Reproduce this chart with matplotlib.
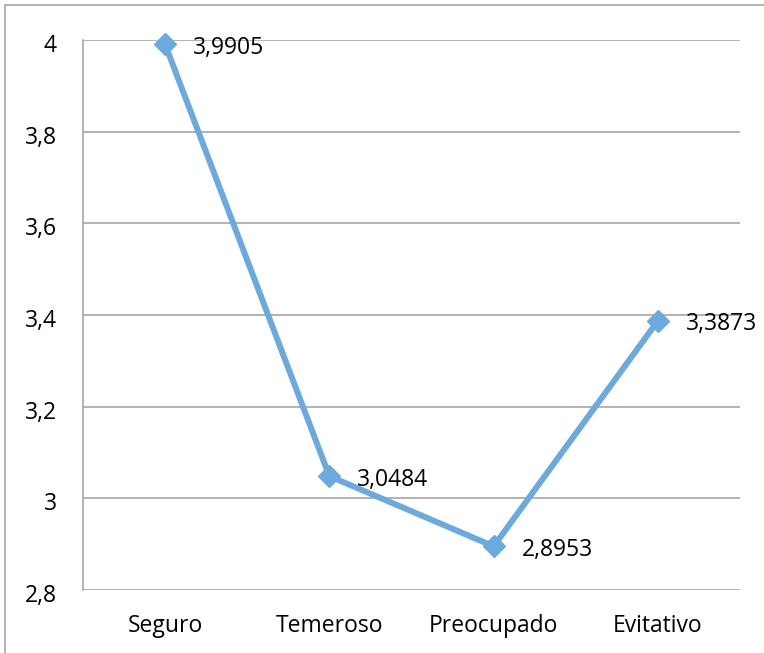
import matplotlib
matplotlib.use("Agg")
import matplotlib.pyplot as plt
from matplotlib.patches import Rectangle
from matplotlib.transforms import ScaledTranslation

categories = ["Seguro", "Temeroso", "Preocupado", "Evitativo"]
values = [3.9905, 3.0484, 2.8953, 3.3873]
yticks = [2.8, 3.0, 3.2, 3.4, 3.6, 3.8, 4.0]
ytick_labels = ["2,8", "3", "3,2", "3,4", "3,6", "3,8", "4"]

plt.rcParams["font.family"] = ["Open Sans", "DejaVu Sans"]

W, H = 764, 653
FS = 16.5
fig = plt.figure(figsize=(W / 100, H / 100), dpi=100)
ax = fig.add_axes([83 / W, (H - 590) / H, (740 - 83) / W, (590 - 40) / H])

line_color = "#6CA9DC"
x = list(range(len(categories)))
ax.plot(x, values, color=line_color, linewidth=4.3, marker="D",
        markersize=11, markerfacecolor=line_color, markeredgecolor=line_color,
        solid_joinstyle="round", zorder=3, clip_on=False)

for xi, v in zip(x, values):
    ax.annotate(f"{v:.4f}".replace(".", ","), (xi, v), xytext=(20, -2.5),
                textcoords="offset points", ha="left", va="center",
                fontsize=FS, color="black", zorder=4, annotation_clip=False)

ax.set_xlim(-0.5, len(categories) - 0.5)
ax.set_ylim(2.8, 4.0)
ax.set_yticks(yticks)
ax.set_yticklabels(ytick_labels, fontsize=FS)
ax.set_xticks(x)
ax.set_xticklabels(categories, fontsize=FS)
ax.tick_params(axis="both", length=0)
ax.tick_params(axis="x", pad=17)
ax.tick_params(axis="y", pad=19)
shift = ScaledTranslation(0, -3 / 100, fig.dpi_scale_trans)
for lbl in ax.get_yticklabels():
    lbl.set_transform(lbl.get_transform() + shift)
ax.yaxis.grid(True, color="#A6A6A6", linewidth=1.2)
ax.set_axisbelow(True)
for side in ["top", "right", "bottom"]:
    ax.spines[side].set_visible(False)
ax.spines["left"].set_color("#A6A6A6")
ax.spines["left"].set_linewidth(1.2)

# outer chart frame
fig.patches.append(Rectangle((5 / W, -0.1), 1.2, 1 - 5 / H + 0.1,
                             transform=fig.transFigure, fill=False,
                             edgecolor="#A6A6A6", linewidth=1.2))

fig.savefig("out.png", dpi=100)
